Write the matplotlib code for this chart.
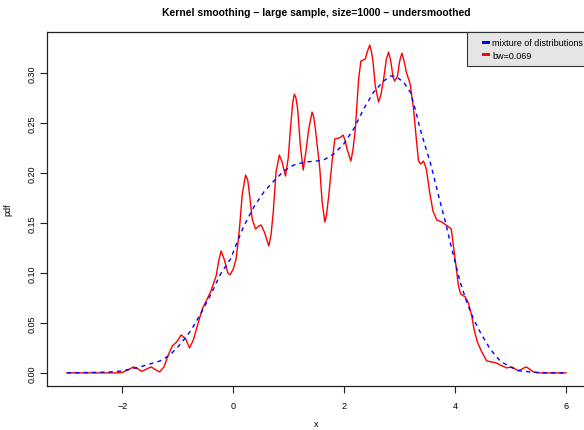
import matplotlib
matplotlib.use("Agg")
import matplotlib.pyplot as plt
from matplotlib.patches import Rectangle

plt.rcParams['font.family'] = ['Liberation Sans', 'DejaVu Sans']

# kernel estimate, bw=0.069 (red)
kde_x = [-3.0, -2.1, -2.0, -1.9, -1.80, -1.72, -1.65, -1.56, -1.48, -1.40, -1.33,
         -1.25, -1.18, -1.10, -1.02, -0.94, -0.86, -0.79, -0.72, -0.65, -0.56,
         -0.48, -0.41, -0.31, -0.26, -0.22, -0.16, -0.10, -0.06, 0.00, 0.05,
         0.08, 0.11, 0.16, 0.22, 0.26, 0.30, 0.34, 0.40, 0.46, 0.50, 0.56, 0.64,
         0.68, 0.72, 0.77, 0.83, 0.88, 0.94, 0.99, 1.03, 1.07, 1.10, 1.13, 1.16,
         1.21, 1.26, 1.31, 1.36, 1.42, 1.45, 1.48, 1.56, 1.60, 1.65, 1.68, 1.72,
         1.78, 1.83, 1.90, 1.94, 1.98, 2.02, 2.05, 2.12, 2.16, 2.20, 2.26, 2.30,
         2.38, 2.42, 2.46, 2.49, 2.52, 2.56, 2.62, 2.66, 2.71, 2.76, 2.80, 2.84,
         2.88, 2.91, 2.96, 3.00, 3.04, 3.08, 3.12, 3.19, 3.25, 3.30, 3.34, 3.38,
         3.43, 3.48, 3.54, 3.60, 3.67, 3.76, 3.86, 3.93, 3.97, 4.02, 4.06, 4.10,
         4.18, 4.24, 4.30, 4.34, 4.40, 4.48, 4.57, 4.66, 4.74, 4.81, 4.93, 5.02,
         5.08, 5.14, 5.21, 5.28, 5.34, 5.41, 5.5, 6.0]
kde_y = [0.0, 0.0, 0.0005, 0.003, 0.006, 0.004, 0.0015, 0.004, 0.006, 0.003, 0.001,
         0.006, 0.017, 0.027, 0.031, 0.038, 0.034, 0.025, 0.033, 0.047, 0.064,
         0.073, 0.081, 0.097, 0.113, 0.122, 0.113, 0.100, 0.098, 0.104, 0.114,
         0.128, 0.144, 0.178, 0.198, 0.193, 0.175, 0.154, 0.144, 0.147, 0.148, 0.141, 0.127,
         0.138, 0.161, 0.201, 0.218, 0.211, 0.197, 0.215, 0.244, 0.270, 0.279, 0.275, 0.264,
         0.227, 0.203, 0.222, 0.244, 0.261, 0.256, 0.244, 0.204, 0.172, 0.151, 0.158, 0.177,
         0.211, 0.234, 0.235, 0.236, 0.238, 0.232, 0.224, 0.212, 0.224, 0.244, 0.294, 0.312,
         0.314, 0.322, 0.328, 0.322, 0.311, 0.287, 0.271, 0.278, 0.294, 0.314, 0.321, 0.312,
         0.296, 0.292, 0.297, 0.312, 0.320, 0.312, 0.301, 0.289, 0.264, 0.234, 0.212, 0.209,
         0.212, 0.204, 0.181, 0.162, 0.153, 0.151, 0.147, 0.144, 0.127, 0.105, 0.087, 0.079,
         0.076, 0.070, 0.057, 0.044, 0.031, 0.021, 0.012, 0.011, 0.010, 0.008, 0.005, 0.006,
         0.004, 0.002, 0.004, 0.006, 0.004, 0.001, 0.0, 0.0]

# true mixture density (blue dashed)
mix_x = [-3.0, -2.5, -2.2, -2.0, -1.68, -1.5, -1.32, -1.14, -0.95, -0.77, -0.59,
         -0.41, -0.23, -0.05, 0.10, 0.19, 0.37, 0.55, 0.73, 0.91, 1.09, 1.30,
         1.50, 1.63, 1.81, 1.99, 2.17, 2.35, 2.53, 2.71, 2.83, 2.92, 3.07, 3.19,
         3.28, 3.37, 3.46, 3.55, 3.64, 3.73, 3.82, 3.91, 4.00, 4.09, 4.21, 4.33,
         4.45, 4.63, 4.81, 4.99, 5.17, 5.35, 5.6, 6.0]
mix_y = [0.0, 0.0005, 0.001, 0.002, 0.006, 0.009, 0.012, 0.018, 0.029, 0.042, 0.059,
         0.078, 0.099, 0.114, 0.135, 0.147, 0.166, 0.181, 0.192, 0.202, 0.208, 0.211,
         0.212, 0.213, 0.219, 0.229, 0.244, 0.264, 0.281, 0.292, 0.297, 0.297, 0.291, 0.281,
         0.264, 0.244, 0.227, 0.211, 0.191, 0.171, 0.152, 0.131, 0.111, 0.091, 0.071, 0.054,
         0.041, 0.024, 0.012, 0.006, 0.002, 0.001, 0.0, 0.0]

x_ticks = [-2, 0, 2, 4, 6]
y_ticks = [0.00, 0.05, 0.10, 0.15, 0.20, 0.25, 0.30]
legend_labels = ['mixture of distributions', 'bw=0.069']
legend_colors = ['blue', 'red']

fig = plt.figure(figsize=(5.84, 4.31), dpi=100)
ax = fig.add_axes([47/584, 44/431, 539/584, 354/431])

ax.plot(kde_x, kde_y, color='red', lw=1.0)
ax.plot(mix_x, mix_y, color='blue', lw=1.0, linestyle=(0, (3, 3)))

ax.set_xlim(-3.36, 6.36)
ax.set_ylim(-0.0131, 0.3411)
ax.set_xticks(x_ticks)
ax.set_yticks(y_ticks)
ax.set_yticklabels(['%.2f' % v for v in y_ticks], rotation=90, va='center')
ax.tick_params(labelsize=6.5, length=5, width=0.8, color='#222222')
ax.tick_params(axis='x', pad=6)
ax.tick_params(axis='y', pad=2.5)
for s in ax.spines.values():
    s.set_linewidth(0.9)
    s.set_color('#222222')

ax.set_xlabel('x', fontsize=6.5, labelpad=6)
ax.set_ylabel('pdf', fontsize=6.5, labelpad=11)
ax.set_title('Kernel smoothing \u2212 large sample, size=1000 \u2212 undersmoothed',
             fontsize=7.5, fontweight='bold', pad=12)

# R-style legend box, top right, flush with the plot frame
ax.add_patch(Rectangle((0.779, 0.904), 0.221, 0.096, transform=ax.transAxes,
                       facecolor='#e5e5e5', edgecolor='#333333', lw=0.8,
                       zorder=5, clip_on=False))
for i, (lab, col) in enumerate(zip(legend_labels, legend_colors)):
    yc = 0.969 - i * 0.034
    ax.add_patch(Rectangle((0.807, yc - 0.004), 0.015, 0.009, transform=ax.transAxes,
                           facecolor=col, edgecolor='none', zorder=6))
    ax.text(0.826, yc, lab, transform=ax.transAxes, fontsize=6.5,
            va='center', ha='left', zorder=7)

fig.savefig('out.png', dpi=100)
